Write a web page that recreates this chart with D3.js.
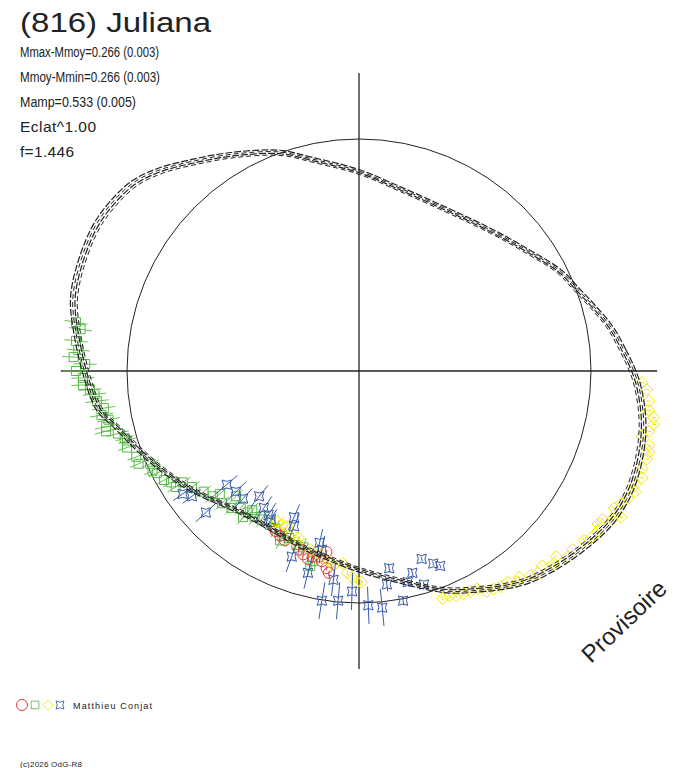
<!DOCTYPE html>
<html>
<head>
<meta charset="utf-8">
<script src="https://cdn.jsdelivr.net/npm/d3@7"></script>
<style>
  body { margin: 0; background: #fff; }
  svg { display: block; }
  text { font-family: Arial, "Liberation Sans", sans-serif; fill: #222; }
</style>
</head>
<body>
<div id="chart"></div>
<script>
// header texts
const title = '(816) Juliana';
const infoLines = ['Mmax-Mmoy=0.266 (0.003)', 'Mmoy-Mmin=0.266 (0.003)', 'Mamp=0.533 (0.005)', 'Eclat^1.00', 'f=1.446'];
const infoWidths = [139, 140, 116, 76, 54];
const observer = 'Matthieu Conjat';
const credit = '(c)2026 OdG-R8';
const stamp = 'Provisoire';

// model curve, polar: angle in degrees (ccw from +x), radius in units of the mean circle
const modelAngle = [0.2, 4.5, 9.9, 15.3, 20.4, 26.2, 35.5, 46.0, 56.9, 77.3, 90, 102.3, 109.9, 120.3, 128.5, 134.7,
  140.2, 146.6, 152.1, 160.1, 166.1, 172.3, 181.3, 188.6, 193.0, 200.8, 208.0, 215.6, 230.8, 240.5, 252.4, 262.2,
  270.3, 280.3, 291.0, 296.9, 307.2, 314.7, 323.0, 329.6, 336.3, 343.7, 350.2, 356.7];
const modelRadius = [1.178, 1.141, 1.098, 1.046, 1.003, 0.966, 0.890, 0.832, 0.797, 0.804, 0.858, 0.931, 1.000, 1.078, 1.150, 1.215,
  1.262, 1.285, 1.292, 1.282, 1.266, 1.226, 1.172, 1.129, 1.071, 0.996, 0.937, 0.881, 0.791, 0.778, 0.796, 0.822,
  0.858, 0.916, 1.011, 1.058, 1.147, 1.192, 1.235, 1.265, 1.274, 1.262, 1.240, 1.204];
const modelBundle = [0.988, 0.996, 1.004, 1.012];

// observations [x, y, error] in units of the mean circle
const redPts = [[-0.36, -0.69, 0.01], [-0.34, -0.71, 0.01], [-0.32, -0.73, 0.01], [-0.26, -0.77, 0.01], [-0.24, -0.79, 0.01],
  [-0.22, -0.81, 0.01], [-0.17, -0.80, 0.01], [-0.16, -0.82, 0.01], [-0.14, -0.78, 0.01], [-0.14, -0.85, 0.01],
  [-0.13, -0.87, 0.01], [-0.20, -0.80, 0.01]];

const greenPts = [[-1.22, 0.21, 0.05], [-1.20, 0.18, 0.05], [-1.22, 0.13, 0.05], [-1.21, 0.09, 0.05], [-1.23, 0.06, 0.05],
  [-1.18, 0.03, 0.05], [-1.22, 0.00, 0.06], [-1.19, -0.03, 0.05], [-1.19, -0.06, 0.05], [-1.16, -0.08, 0.05],
  [-1.14, -0.10, 0.05], [-1.13, -0.13, 0.05], [-1.10, -0.16, 0.05], [-1.11, -0.19, 0.05], [-1.08, -0.21, 0.05],
  [-1.09, -0.24, 0.05], [-1.09, -0.26, 0.05], [-1.04, -0.27, 0.05], [-1.01, -0.29, 0.04], [-1.00, -0.30, 0.04],
  [-1.00, -0.33, 0.04], [-0.96, -0.37, 0.04], [-0.95, -0.40, 0.04], [-0.90, -0.40, 0.04], [-0.89, -0.43, 0.04],
  [-0.87, -0.44, 0.04], [-0.84, -0.47, 0.04], [-0.81, -0.48, 0.04], [-0.79, -0.50, 0.04], [-0.76, -0.48, 0.04],
  [-0.72, -0.50, 0.04], [-0.67, -0.52, 0.04], [-0.63, -0.54, 0.04], [-0.60, -0.53, 0.04], [-0.59, -0.57, 0.04],
  [-0.55, -0.59, 0.04], [-0.51, -0.59, 0.04], [-0.50, -0.63, 0.04], [-0.46, -0.60, 0.04], [-0.45, -0.63, 0.04],
  [-0.42, -0.64, 0.04], [-0.38, -0.65, 0.04], [-0.36, -0.68, 0.04], [-0.33, -0.71, 0.04], [-0.30, -0.72, 0.04],
  [-0.27, -0.75, 0.04], [-0.24, -0.76, 0.04], [-0.20, -0.82, 0.04], [-0.21, -0.84, 0.04], [-0.34, -0.73, 0.04],
  [-0.53, -0.54, 0.04], [-0.48, -0.61, 0.04]];

const yellowPts = [[1.22, -0.05, 0.01], [1.24, -0.08, 0.01], [1.25, -0.13, 0.01], [1.25, -0.17, 0.01], [1.27, -0.20, 0.01],
  [1.27, -0.23, 0.01], [1.25, -0.26, 0.01], [1.22, -0.28, 0.01], [1.25, -0.32, 0.01], [1.25, -0.35, 0.01],
  [1.24, -0.38, 0.01], [1.22, -0.42, 0.01], [1.22, -0.46, 0.01], [1.19, -0.49, 0.01], [1.19, -0.52, 0.01],
  [1.16, -0.55, 0.01], [1.13, -0.57, 0.01], [1.10, -0.59, 0.01], [1.13, -0.63, 0.01], [1.09, -0.64, 0.01],
  [1.05, -0.64, 0.01], [1.03, -0.66, 0.01], [1.03, -0.69, 0.01], [1.00, -0.72, 0.01], [0.97, -0.73, 0.01],
  [0.92, -0.77, 0.01], [0.90, -0.80, 0.01], [0.85, -0.80, 0.01], [0.84, -0.83, 0.01], [0.79, -0.84, 0.01],
  [0.77, -0.87, 0.01], [0.74, -0.88, 0.01], [0.69, -0.89, 0.01], [0.68, -0.91, 0.01], [0.64, -0.91, 0.01],
  [0.61, -0.93, 0.01], [0.58, -0.94, 0.01], [0.55, -0.95, 0.01], [0.51, -0.94, 0.01], [0.48, -0.95, 0.01],
  [0.45, -0.96, 0.01], [0.42, -0.97, 0.01], [0.39, -0.97, 0.01], [0.36, -0.98, 0.01],
  [-0.35, -0.65, 0.01], [-0.33, -0.66, 0.01], [-0.31, -0.67, 0.01], [-0.29, -0.70, 0.01], [-0.27, -0.74, 0.01],
  [-0.26, -0.72, 0.01], [-0.21, -0.77, 0.01], [-0.18, -0.78, 0.01], [-0.16, -0.80, 0.01], [-0.13, -0.82, 0.01],
  [-0.11, -0.84, 0.01], [-0.07, -0.83, 0.01], [-0.05, -0.87, 0.01], [-0.03, -0.89, 0.01], [-0.01, -0.91, 0.01],
  [0.01, -0.91, 0.01]];

const bluePts = [[-0.76, -0.53, 0.05], [-0.72, -0.54, 0.05], [-0.66, -0.61, 0.06], [-0.57, -0.49, 0.06], [-0.53, -0.52, 0.06],
  [-0.50, -0.55, 0.06], [-0.43, -0.54, 0.06], [-0.41, -0.59, 0.06], [-0.39, -0.62, 0.06], [-0.38, -0.64, 0.05],
  [-0.28, -0.63, 0.06], [-0.28, -0.67, 0.06], [-0.17, -0.74, 0.06], [-0.16, -0.77, 0.06], [-0.29, -0.80, 0.07],
  [-0.22, -0.87, 0.07], [-0.11, -0.90, 0.07], [-0.03, -0.95, 0.08], [-0.16, -0.99, 0.08], [-0.09, -0.99, 0.08],
  [0.04, -1.01, 0.08], [0.10, -1.02, 0.08], [0.12, -0.92, 0.03], [0.13, -0.85, 0.02], [0.21, -0.91, 0.02],
  [0.19, -0.99, 0.02], [0.23, -0.87, 0.02], [0.27, -0.81, 0.01], [0.28, -0.92, 0.01], [0.32, -0.83, 0.01],
  [0.35, -0.84, 0.01]];

const W = 688, H = 768;
const cx = 359, cy = 371, R = 232;   // centre and radius of the mean circle
const axisReach = 1.285;

const svg = d3.select('#chart').append('svg').attr('width', W).attr('height', H);

const x = d3.scaleLinear().domain([-1, 1]).range([cx - R, cx + R]);
const y = d3.scaleLinear().domain([-1, 1]).range([cy + R, cy - R]);
const angle = d3.scaleLinear().domain([0, 360]).range([Math.PI / 2, Math.PI / 2 - 2 * Math.PI]);

// mean circle and cross
svg.append('circle')
  .attr('cx', x(0)).attr('cy', y(0)).attr('r', x(1) - x(0))
  .attr('fill', 'none').attr('stroke', '#222').attr('stroke-width', 1);
svg.append('line')
  .attr('x1', x(-axisReach)).attr('x2', x(axisReach)).attr('y1', y(0)).attr('y2', y(0))
  .attr('stroke', '#222').attr('stroke-width', 1.3);
svg.append('line')
  .attr('x1', x(0)).attr('x2', x(0)).attr('y1', y(axisReach)).attr('y2', y(-axisReach))
  .attr('stroke', '#222').attr('stroke-width', 1.3);

// marker shapes
function starPath(s) {
  const k = 0.4 * s;
  return `M${-s},${-s}Q0,${-k} ${s},${-s}Q${k},0 ${s},${s}Q0,${k} ${-s},${s}Q${-k},0 ${-s},${-s}Z`;
}
const shapes = {
  circle: () => 'M-5.5,0a5.5,5.5 0 1,0 11,0a5.5,5.5 0 1,0 -11,0Z',
  square: () => 'M-4.5,-4.5H4.5V4.5H-4.5Z',
  diamond: () => 'M0,-6L6,0L0,6L-6,0Z',
  star: () => starPath(4.7)
};

const series = [
  { pts: greenPts, color: '#56b847', errColor: '#6cc04f', shape: 'square' },
  { pts: redPts, color: '#e53a3a', errColor: '#e53a3a', shape: 'circle' },
  { pts: yellowPts, color: '#f2e600', errColor: '#f2e600', shape: 'diamond' },
  { pts: bluePts, color: '#3a5aa8', errColor: '#3a5aa8', shape: 'star' }
];

series.forEach((s) => {
  const g = svg.append('g');
  // radial error bars
  g.selectAll('line')
    .data(s.pts)
    .enter()
    .append('line')
    .each(function (d) {
      const a = Math.atan2(d[1], d[0]);
      d3.select(this)
        .attr('x1', x(d[0] - d[2] * Math.cos(a))).attr('y1', y(d[1] - d[2] * Math.sin(a)))
        .attr('x2', x(d[0] + d[2] * Math.cos(a))).attr('y2', y(d[1] + d[2] * Math.sin(a)));
    })
    .attr('stroke', s.errColor).attr('stroke-width', 1);
  g.selectAll('path')
    .data(s.pts)
    .enter()
    .append('path')
    .attr('d', shapes[s.shape]())
    .attr('transform', (d) => `translate(${x(d[0])},${y(d[1])})`)
    .attr('fill', 'none').attr('stroke', s.color).attr('stroke-width', 1);
});

// model curves (bundle of solutions)
const modelData = modelAngle.map((a, i) => [a, modelRadius[i]]);
modelBundle.forEach((k, i) => {
  const rr = d3.scaleLinear().domain([0, 1]).range([0, R * k]);
  const line = d3.lineRadial()
    .angle((d) => angle(d[0]))
    .radius((d) => rr(d[1]))
    .curve(d3.curveCatmullRomClosed.alpha(0.5));
  svg.append('path')
    .attr('d', line(modelData))
    .attr('transform', `translate(${x(0)},${y(0)})`)
    .attr('fill', 'none').attr('stroke', '#222')
    .attr('stroke-width', i % 2 ? 1.2 : 1)
    .attr('stroke-dasharray', i % 2 ? '7,2' : '5,3')
    .attr('stroke-dashoffset', i * 3);
});

// header
svg.append('text').attr('x', 20).attr('y', 32)
  .attr('font-size', 27).attr('textLength', 191).attr('lengthAdjust', 'spacingAndGlyphs')
  .text(title);
svg.selectAll('.info')
  .data(infoLines)
  .enter()
  .append('text')
  .attr('class', 'info')
  .attr('x', 20).attr('y', (d, i) => 57 + i * 25)
  .attr('font-size', 15.5)
  .attr('textLength', (d, i) => infoWidths[i])
  .attr('lengthAdjust', (d, i) => (i < 3 ? 'spacingAndGlyphs' : 'spacing'))
  .text((d) => d);

// legend
const legend = svg.append('g').attr('transform', 'translate(0,705)');
[['circle', '#e53a3a', 22], ['square', '#56b847', 35], ['diamond', '#f2e600', 48], ['star', '#3a5aa8', 60]]
  .forEach(([shape, color, lx]) => {
    legend.append('path').attr('d', shapes[shape]())
      .attr('transform', `translate(${lx},0)` + (shape === 'circle' ? '' : ' scale(0.85)'))
      .attr('fill', 'none').attr('stroke', color).attr('stroke-width', 1);
  });
legend.append('text').attr('x', 73).attr('y', 3.5)
  .attr('font-size', 9).attr('textLength', 79).attr('lengthAdjust', 'spacing')
  .text(observer);

svg.append('text').attr('x', 20).attr('y', 767)
  .attr('font-size', 8).attr('textLength', 62).attr('lengthAdjust', 'spacing')
  .text(credit);

svg.append('text')
  .attr('transform', 'translate(591,664) rotate(-43.5)')
  .attr('font-size', 24)
  .text(stamp);
</script>
</body>
</html>
